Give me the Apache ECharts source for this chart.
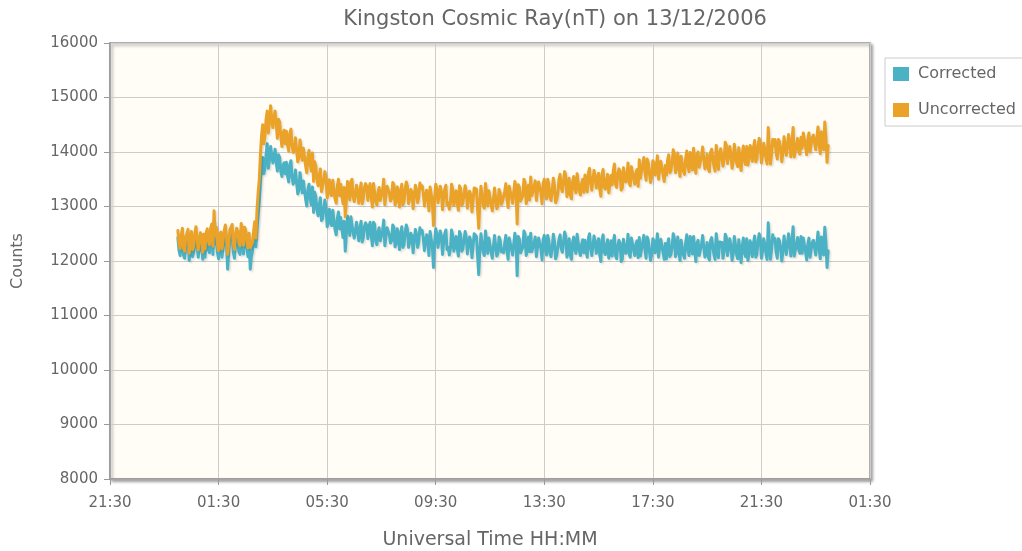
<!DOCTYPE html>
<html>
<head>
<meta charset="utf-8">
<script src="https://cdn.jsdelivr.net/npm/echarts@6/dist/echarts.min.js"></script>
<style>
html,body{margin:0;padding:0;background:#fff;}
#chart{width:1022px;height:551px;}
</style>
</head>
<body>
<div id="chart"></div>
<script>
// Tick labels (every 4 hours, axis starts 12/12 21:30)
const tickLabels = ['21:30','01:30','05:30','09:30','13:30','17:30','21:30','01:30'];
// Sampling: 2.5-minute values from 00:00 on 13/12/2006 (24 values per hour)
const sampleStartHour = 0;   // 00:00
const sampleStepMin = 2.5;
const axisStartOffset = 2.5; // hours from 21:30 to 00:00

const corrected = [
12430,12200,12100,12340,12470,12110,12050,12310,12370,12450,12010,12170,12410,12080,12150,12380,12500,12280,12070,12040,12390,12330,12030,12360,
12070,12370,12440,12210,12150,12460,12530,12120,12720,12310,12470,12150,12040,12340,12380,12070,12080,12410,12510,12290,11850,12180,12420,12440,
12510,12170,12050,12340,12440,12380,12170,12120,12530,12410,12130,12460,12400,12230,12080,12350,11850,12080,12180,12390,12560,12260,12600,12850,
13100,13450,13750,13900,13600,13700,13950,14150,13700,13850,14100,13950,13800,13900,14050,13800,13650,13950,13900,13650,13550,13750,13800,13600,
13810,13560,13450,13770,13840,13540,13410,13450,13670,13700,13230,13300,13620,13450,13250,13470,13470,13130,13010,13310,13410,13150,13030,13360,
12890,13260,13180,12940,12830,13020,13160,12740,12780,12970,13120,12980,12630,12690,12950,12750,12650,12930,12920,12570,12480,12780,12900,12590,
12800,12600,12430,12730,12180,12490,12820,12680,12470,12810,12840,12520,12420,12420,12710,12710,12370,12600,12730,12350,12430,12630,12700,12650,
12410,12630,12710,12460,12280,12710,12670,12360,12300,12540,12610,12370,12340,12560,12750,12280,12250,12610,12600,12480,12330,12370,12660,12620,
12260,12310,12590,12480,12210,12510,12630,12250,12300,12530,12660,12580,12250,12340,12510,12460,12150,12180,12580,12490,12250,12350,12610,12510,
12560,12430,12190,12200,12480,12380,12100,12540,12520,12270,11880,12310,12590,12500,12250,12230,12550,12460,12120,12330,12500,12570,12210,12250,
12110,12220,12570,12470,12180,12290,12450,12240,12090,12540,12490,12180,12220,12380,12540,12440,12130,12150,12440,12370,12060,12260,12500,12510,
12450,12100,11750,12200,12500,12330,12160,12100,12550,12370,12140,12420,12400,12170,12050,12260,12470,12470,12090,12140,12440,12380,12170,12220,
12150,12330,12470,12190,12030,12420,12420,12220,12110,12080,12510,12360,11730,12450,12400,12150,12130,12250,12550,12490,12100,12200,12440,12170,
12510,12170,12150,12330,12440,12080,12060,12420,12400,12230,12020,12390,12470,12200,12110,12470,12380,12130,12080,12250,12490,12360,12040,12100,
12120,12400,12480,12230,12160,12190,12530,12450,12070,12160,12410,12110,12030,12340,12440,12220,12140,12490,12470,12180,12100,12310,12390,12150,
12380,12190,12070,12420,12500,12240,12100,12080,12460,12350,12140,12310,12410,12120,11990,12390,12480,12160,12120,12290,12390,12050,12050,12370,
12090,12350,12470,12100,12040,12280,12380,12330,11990,12030,12400,12390,12140,12190,12490,12130,12070,12420,12450,12200,12100,12310,12370,12060,
12430,12090,12100,12340,12470,12210,12050,12440,12370,12170,12010,12120,12410,12370,12150,12280,12500,12070,12070,12400,12390,12160,12030,12320,
12040,12310,12410,12080,12120,12260,12500,12420,12080,12150,12440,12190,12010,12380,12350,12110,12050,12340,12480,12210,12100,12450,12390,12130,
12450,12190,11990,12330,12380,12100,12110,12300,12470,12440,12070,12160,12340,12070,12020,12370,12430,12270,12120,12030,12500,12320,12060,12350,
12370,12340,12050,12180,12490,12430,12100,12090,12410,12280,12010,12120,12450,12310,12120,12040,12390,12380,11970,12260,12420,12150,12080,12410,
12010,12120,12370,12290,12080,12330,12460,12070,12120,12360,12500,12410,12050,12180,12410,12300,12140,12030,12700,12340,12030,12210,12480,12370,
12410,12160,12050,12410,12370,12230,12000,12180,12460,12480,12120,12120,12500,12320,12090,12380,12630,12090,12060,12310,12430,12200,12140,12450,
12140,12420,12450,12170,12020,12300,12420,12070,12060,12340,12380,12390,12110,12140,12530,12230,12040,12440,12400,12110,12620,12350,11880,12190
];
const uncorrected = [
12560,12330,12230,12470,12600,12240,12180,12440,12500,12580,12140,12300,12540,12210,12280,12510,12630,12410,12200,12170,12520,12460,12160,12490,
12220,12520,12590,12360,12300,12610,12680,12270,12920,12460,12620,12300,12190,12490,12530,12220,12230,12560,12660,12440,12120,12330,12570,12590,
12670,12330,12210,12500,12600,12540,12330,12280,12690,12570,12290,12620,12560,12390,12240,12510,12250,12240,12340,12550,12720,12420,12950,13250,
13500,13950,14300,14500,14150,14300,14600,14750,14350,14550,14850,14600,14450,14650,14750,14500,14250,14600,14550,14300,14100,14350,14400,14150,
14380,14130,14020,14340,14420,14120,13990,14030,14260,14290,13820,13890,14220,14050,13850,14070,14080,13740,13620,13920,14030,13770,13650,13980,
13460,13820,13740,13500,13380,13560,13690,13270,13300,13490,13640,13510,13160,13230,13490,13290,13200,13480,13480,13140,13060,13370,13500,13200,
13410,13210,13050,13350,12810,13120,13460,13320,13120,13460,13500,13180,13090,13090,13390,13390,13060,13290,13430,13050,13140,13340,13420,13370,
13110,13330,13420,13170,12990,13420,13390,13080,13030,13270,13350,13110,13080,13300,13500,13030,13010,13370,13370,13250,13100,13140,13440,13400,
13030,13080,13360,13250,12990,13290,13410,13030,13090,13320,13450,13370,13050,13140,13310,13260,12960,12990,13390,13300,13070,13170,13430,13330,
13380,13250,13010,13020,13300,13200,12920,13360,13340,13090,12650,13130,13410,13320,13070,13050,13370,13280,12940,13150,13320,13390,13030,13070,
12950,13060,13410,13310,13020,13130,13290,13080,12930,13380,13330,13020,13060,13220,13380,13280,12970,12990,13280,13210,12900,13100,13340,13350,
13320,12950,12600,13070,13370,13200,13030,12970,13420,13240,13010,13290,13270,13040,12920,13130,13340,13340,12960,13010,13310,13250,13040,13090,
13100,13280,13420,13140,12980,13370,13370,13170,13060,13030,13460,13310,12680,13400,13350,13100,13080,13200,13500,13440,13050,13150,13390,13120,
13540,13200,13180,13360,13470,13110,13090,13450,13430,13260,13050,13420,13500,13230,13140,13500,13410,13160,13110,13280,13520,13390,13070,13130,
13230,13510,13590,13340,13270,13300,13640,13560,13180,13270,13520,13220,13140,13450,13550,13330,13250,13600,13580,13290,13210,13420,13500,13260,
13580,13390,13270,13620,13700,13440,13300,13280,13660,13550,13340,13510,13610,13320,13190,13590,13680,13360,13320,13490,13590,13250,13250,13570,
13400,13660,13780,13410,13350,13590,13690,13640,13300,13340,13710,13700,13450,13500,13800,13440,13380,13730,13760,13510,13410,13620,13680,13370,
13860,13520,13530,13770,13900,13640,13480,13870,13800,13600,13440,13550,13840,13800,13580,13710,13930,13500,13500,13830,13820,13590,13460,13750,
13580,13850,13950,13620,13660,13800,14040,13960,13620,13690,13980,13730,13550,13920,13890,13650,13590,13880,14020,13750,13640,13990,13930,13670,
14070,13810,13610,13950,14000,13720,13730,13920,14090,14060,13690,13780,13960,13690,13640,13990,14050,13890,13740,13650,14120,13940,13680,13970,
14060,14030,13740,13870,14180,14120,13790,13780,14100,13970,13700,13810,14140,14000,13810,13730,14080,14070,13660,13950,14110,13840,13770,14100,
13760,13870,14120,14040,13830,14080,14210,13820,13870,14110,14250,14160,13800,13930,14160,14050,13890,13780,14450,14090,13780,13960,14230,14120,
14230,13980,13870,14230,14190,14050,13820,14000,14280,14300,13940,13940,14320,14140,13910,14200,14450,13910,13880,14130,14250,14020,13960,14270,
14070,14350,14380,14100,13950,14230,14350,14000,13990,14270,14310,14320,14040,14070,14460,14160,13970,14370,14330,14040,14550,14280,13810,14120
];

function toPairs(arr){
  return arr.map((v,i)=>[axisStartOffset + sampleStartHour + i*sampleStepMin/60, v]);
}

const chart = echarts.init(document.getElementById('chart'), null, {renderer:'canvas'});
const fontTick = 'DejaVu Sans';
chart.setOption({
  animation:false,
  backgroundColor:'#ffffff',
  title:{
    text:'Kingston Cosmic Ray(nT) on 13/12/2006',
    left:550, top:4, textAlign:'center',
    textStyle:{fontFamily:fontTick, fontSize:21, fontWeight:'normal', color:'#666'}
  },
  legend:{
    orient:'vertical', left:885, top:58,
    icon:'rect', itemWidth:16, itemHeight:14, itemGap:20,
    padding:[8,10,8,8],
    borderColor:'#ccc', borderWidth:1,
    textStyle:{fontFamily:fontTick, fontSize:16, color:'#666', padding:[0,0,0,4]},
    data:['Corrected','Uncorrected']
  },
  grid:{
    left:110, right:152, top:43, bottom:72,
    outerBoundsMode:'none', containLabel:false,
    show:true, backgroundColor:'#fffdf6', borderColor:'#999', borderWidth:1.5,
    shadowColor:'rgba(0,0,0,0.35)', shadowBlur:3, shadowOffsetX:2, shadowOffsetY:2
  },
  xAxis:{
    type:'value', min:0, max:28, interval:4,
    name:'Universal Time HH:MM', nameLocation:'middle', nameGap:52,
    nameTextStyle:{fontFamily:fontTick, fontSize:19, color:'#666'},
    axisLine:{show:true, lineStyle:{color:'#999', width:1.5}},
    axisTick:{show:true, length:6, lineStyle:{color:'#999'}},
    axisLabel:{fontFamily:fontTick, fontSize:15, color:'#666', margin:17,
      formatter:(v)=>tickLabels[Math.round(v/4)]},
    splitLine:{show:true, lineStyle:{color:'#ccc', width:1}}
  },
  yAxis:{
    type:'value', min:8000, max:16000, interval:1000,
    name:'Counts', nameLocation:'middle', nameGap:84, nameRotate:90,
    nameTextStyle:{fontFamily:fontTick, fontSize:16, color:'#666'},
    axisLine:{show:true, lineStyle:{color:'#999', width:1.5}},
    axisTick:{show:true, length:6, lineStyle:{color:'#999'}},
    axisLabel:{fontFamily:fontTick, fontSize:15, color:'#666', margin:12,
      formatter:(v)=>String(v)},
    splitLine:{show:true, lineStyle:{color:'#ccc', width:1}}
  },
  series:[
    {name:'Corrected', type:'line', data:toPairs(corrected), showSymbol:false, symbol:'none',
     color:'#4bb2c5', lineStyle:{width:3, color:'#4bb2c5', join:'round', cap:'round',
       shadowColor:'rgba(0,0,0,0.12)', shadowBlur:2, shadowOffsetX:1.5, shadowOffsetY:1.5}},
    {name:'Uncorrected', type:'line', data:toPairs(uncorrected), showSymbol:false, symbol:'none',
     color:'#eaa228', lineStyle:{width:3, color:'#eaa228', join:'round', cap:'round',
       shadowColor:'rgba(0,0,0,0.12)', shadowBlur:2, shadowOffsetX:1.5, shadowOffsetY:1.5}}
  ]
});
</script>
</body>
</html>
